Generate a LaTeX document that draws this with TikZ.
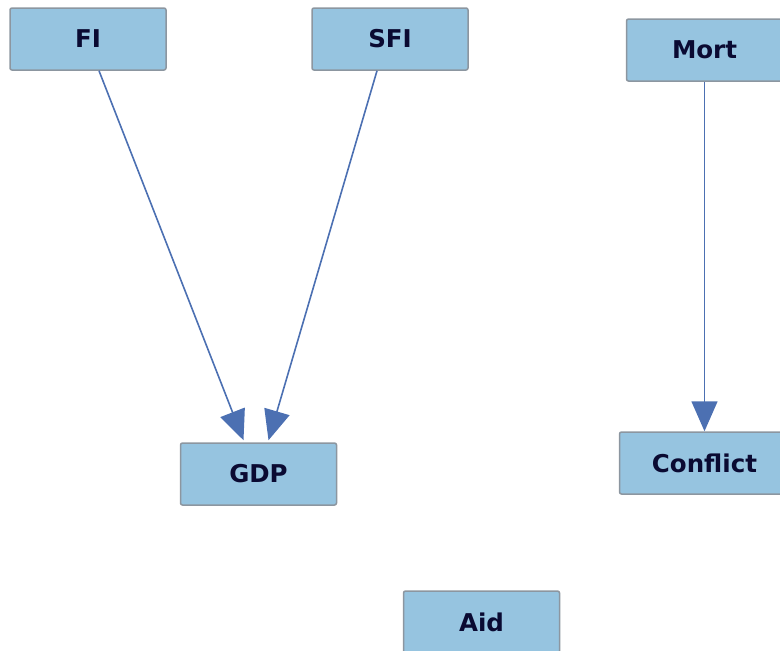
\documentclass[tikz,border=0pt]{standalone}
\usepackage{fontspec}
\setmainfont{DejaVu Sans}
\definecolor{boxfill}{RGB}{150, 196, 224}
\definecolor{boxline}{RGB}{140, 150, 160}
\definecolor{arrowblue}{RGB}{76, 112, 178}
\definecolor{textnavy}{RGB}{10, 10, 50}
\usetikzlibrary{
  arrows.meta,
  positioning,
}
\tikzset{
  >={Triangle[width=26pt,length=30pt]},
}

\begin{document}
\begin{tikzpicture}[x=1pt,y=-1pt,
    varbox/.style={draw=boxline,line width=1.5pt,rounded corners=2pt,fill=boxfill,
      rectangle,minimum width=156pt,minimum height=62pt,inner sep=0pt,
      font=\fontsize{24.5}{28}\selectfont\bfseries,text=textnavy},
    link/.style={->,draw=arrowblue,fill=arrowblue,line width=1.6pt}]
      \useasboundingbox (0,0) rectangle (780,651);
      \clip (0,0) rectangle (780,651);
      % top row
      \node[varbox]    (fi)    at (88,39)    {FI};
      \node[varbox]    (sfi)   at (390,39)   {SFI};
      \node[varbox]    (mort)  at (704.5,50)   {Mort};
      % middle row
      \node[varbox]    (gdp)   at (258.5,474) {GDP};
      \node[varbox,minimum width=170pt]    (conflict) at (704.5,463) {Conflict};
      % bottom
      \node[varbox]    (aid)   at (481.5,622) {Aid};

      \draw[link] ([xshift=11pt]fi.south) -- ([xshift=-15pt,yshift=2pt]gdp.north);
      \draw[link] ([xshift=-13pt]sfi.south) -- ([xshift=10pt,yshift=2pt]gdp.north);
      \draw[link] (mort.south) -- (conflict.north);
    \end{tikzpicture}
\end{document}
